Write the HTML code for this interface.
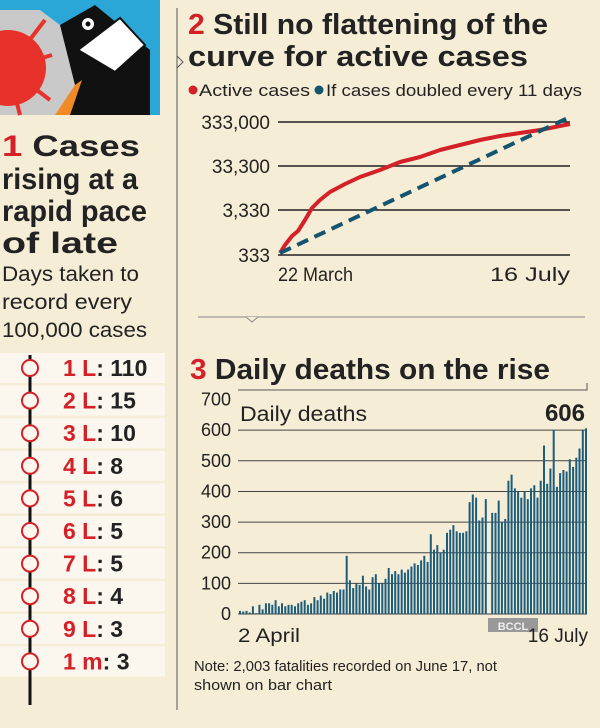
<!DOCTYPE html>
<html><head><meta charset="utf-8"><style>
body{margin:0;width:600px;height:723px;overflow:hidden;background:#f6edd6;font-family:"Liberation Sans",sans-serif;}
svg text{font-family:"Liberation Sans",sans-serif;}
</style></head><body>
<svg id="s" width="600" height="723" viewBox="0 0 600 723" xmlns="http://www.w3.org/2000/svg">
<rect width="600" height="723" fill="#f6edd6"/>
<rect x="0" y="0" width="160" height="115" fill="#2aa7d6"/>
<polygon points="0,10 40,10 80,40 120,70 110,115 0,115" fill="#c9c9c9"/>
<circle cx="8" cy="68" r="38" fill="#e8312a"/>
<g stroke="#e8312a" stroke-width="4"><line x1="8" y1="68" x2="45" y2="20"/><line x1="8" y1="68" x2="52" y2="55"/><line x1="8" y1="68" x2="50" y2="100"/><line x1="8" y1="68" x2="20" y2="115"/></g>
<polygon points="60,25 95,5 150,50 150,115 60,115 75,85" fill="#111"/>
<polygon points="75,85 82,80 70,115 55,115" fill="#f08a24"/>
<polygon points="78,50 120,18 145,45 115,72" fill="#fff" stroke="#111" stroke-width="2"/>
<circle cx="88" cy="24" r="6" fill="#fff"/><circle cx="88" cy="24" r="2.5" fill="#111"/>
<line x1="177" y1="8" x2="177" y2="710" stroke="#555" stroke-width="1"/>
<polyline points="177,56 183,62 177,68" fill="none" stroke="#555"/>
<g font-weight="bold" font-size="30" fill="#222" lengthAdjust="spacingAndGlyphs">
<text x="2" y="156" textLength="138" lengthAdjust="spacingAndGlyphs"><tspan fill="#d42027">1</tspan> Cases</text>
<text x="2" y="189" textLength="136" lengthAdjust="spacingAndGlyphs">rising at a</text>
<text x="2" y="221" textLength="145" lengthAdjust="spacingAndGlyphs">rapid pace</text>
<text x="2" y="253" textLength="116" lengthAdjust="spacingAndGlyphs">of late</text>
</g>
<g font-size="21" fill="#222">
<text x="2" y="281" textLength="137" lengthAdjust="spacingAndGlyphs">Days taken to</text>
<text x="2" y="309" textLength="130" lengthAdjust="spacingAndGlyphs">record every</text>
<text x="2" y="337" textLength="145" lengthAdjust="spacingAndGlyphs">100,000 cases</text>
</g>
<g id="tl"></g>
<g font-weight="bold" font-size="29" fill="#222">
<text x="188" y="34" textLength="360" lengthAdjust="spacingAndGlyphs"><tspan fill="#d42027">2</tspan> Still no flattening of the</text>
<text x="188" y="66" textLength="340" lengthAdjust="spacingAndGlyphs">curve for active cases</text>
</g>
<circle cx="193" cy="90" r="4.5" fill="#d42027"/>
<text x="199" y="96" font-size="17" fill="#222" textLength="111" lengthAdjust="spacingAndGlyphs">Active cases</text>
<circle cx="319" cy="90" r="4.5" fill="#14546e"/>
<text x="326" y="96" font-size="17" fill="#222" textLength="256" lengthAdjust="spacingAndGlyphs">If cases doubled every 11 days</text>
<g stroke="#222" stroke-width="1.5">
<line x1="278" y1="122" x2="570" y2="122"/><line x1="278" y1="166" x2="570" y2="166"/>
<line x1="278" y1="210" x2="570" y2="210"/><line x1="278" y1="255" x2="570" y2="255"/></g>
<g font-size="19" fill="#222" text-anchor="end">
<text x="270" y="129">333,000</text><text x="270" y="173">33,300</text>
<text x="270" y="217">3,330</text><text x="270" y="262">333</text></g>
<text x="278" y="281" font-size="19" fill="#222" textLength="75" lengthAdjust="spacingAndGlyphs">22 March</text>
<text x="490" y="281" font-size="19" fill="#222" textLength="80" lengthAdjust="spacingAndGlyphs">16 July</text>
<polyline points="280,253 285,245 292,236 298,231 305,220 312,208 320,200 330,192 345,184 360,177 380,170 400,162 420,157 440,150 460,145 480,140 500,136 520,133 540,130 555,127 570,124" fill="none" stroke="#d42027" stroke-width="4" stroke-linejoin="round"/>
<line x1="280" y1="253" x2="572" y2="116" stroke="#14546e" stroke-width="4" stroke-dasharray="12,7"/>
<line x1="198" y1="317" x2="585" y2="317" stroke="#888"/>
<polyline points="246,317 252,322 258,317" fill="#f6edd6" stroke="#888"/>
<text x="190" y="379" font-weight="bold" font-size="29" fill="#222" textLength="360" lengthAdjust="spacingAndGlyphs"><tspan fill="#d42027">3</tspan> Daily deaths on the rise</text>
<polyline points="238,390 587,390 587,383" fill="none" stroke="#555"/>
<g id="grid" stroke="#444" stroke-width="1"></g>
<text x="240" y="421" font-size="21" fill="#222" textLength="127" lengthAdjust="spacingAndGlyphs">Daily deaths</text>
<text x="585" y="421" font-size="24" font-weight="bold" fill="#222" text-anchor="end">606</text>
<g id="yl" font-size="18" fill="#222" text-anchor="end"></g>
<g id="bars" fill="#1d5d7c"></g>
<rect x="488" y="618" width="50" height="14" fill="#999"/>
<text x="513" y="630" font-size="11" font-weight="bold" fill="#eee" text-anchor="middle">BCCL</text>
<text x="238" y="642" font-size="19" fill="#222" textLength="62" lengthAdjust="spacingAndGlyphs">2 April</text>
<text x="588" y="642" font-size="19" fill="#222" text-anchor="end">16 July</text>
<text x="194" y="671" font-size="15" fill="#222" textLength="303" lengthAdjust="spacingAndGlyphs">Note: 2,003 fatalities recorded on June 17, not</text>
<text x="194" y="690" font-size="15" fill="#222" textLength="138" lengthAdjust="spacingAndGlyphs">shown on bar chart</text>
</svg>
<script>
var NS="http://www.w3.org/2000/svg";
function el(p,t,a,txt){var e=document.createElementNS(NS,t);for(var k in a)e.setAttribute(k,a[k]);if(txt!==undefined)e.textContent=txt;document.getElementById(p).appendChild(e);return e;}
var labs=[["1 L",": 110"],["2 L",": 15"],["3 L",": 10"],["4 L",": 8"],["5 L",": 6"],["6 L",": 5"],["7 L",": 5"],["8 L",": 4"],["9 L",": 3"],["1 m",": 3"]];
for(var i=0;i<10;i++){var y=368+i*32.6;
el("tl","rect",{x:0,y:y-15,width:165,height:30,fill:"#fbf7ee"});}
el("tl","line",{x1:30,y1:355,x2:30,y2:705,stroke:"#111","stroke-width":3});
for(var i=0;i<10;i++){var y=368+i*32.6;
el("tl","circle",{cx:30,cy:y,r:8,fill:"#fbf7ee",stroke:"#d42027","stroke-width":2});
var t=el("tl","text",{x:63,y:y+8,"font-size":23,"font-weight":"bold",fill:"#222"});
var a=document.createElementNS(NS,"tspan");a.setAttribute("fill","#d42027");a.textContent=labs[i][0];t.appendChild(a);
var b=document.createElementNS(NS,"tspan");b.textContent=labs[i][1];t.appendChild(b);}
for(var v=0;v<=700;v+=100){var y=614-v*0.3064;
if(v>0&&v<700)el("grid","line",{x1:238,y1:y,x2:587,y2:y});
el("yl","text",{x:231,y:y+6},String(v));}
el("grid","line",{x1:238,y1:614,x2:587,y2:614,stroke:"#444"});
var vals=[10,8,10,5,25,3,30,15,35,35,30,45,25,35,25,30,30,25,35,40,45,30,35,55,45,60,50,70,65,75,70,80,80,190,110,85,100,95,125,90,80,120,130,100,100,115,150,130,140,130,145,135,145,155,165,160,175,190,170,260,210,225,200,210,265,275,290,270,265,265,270,365,390,380,305,315,375,-1,330,330,370,300,310,435,455,410,400,380,400,375,410,420,380,435,550,425,475,600,415,460,470,465,505,480,510,540,600,606];
var n=vals.length,x0=240,x1=586,st=(x1-x0)/(n-1);
for(var i=0;i<n;i++){if(vals[i]<0)continue;var h=vals[i]*0.3064;
el("bars","rect",{x:(x0+i*st-1).toFixed(1),y:(614-h).toFixed(1),width:2,height:h.toFixed(1)});}
</script>
</body></html>
